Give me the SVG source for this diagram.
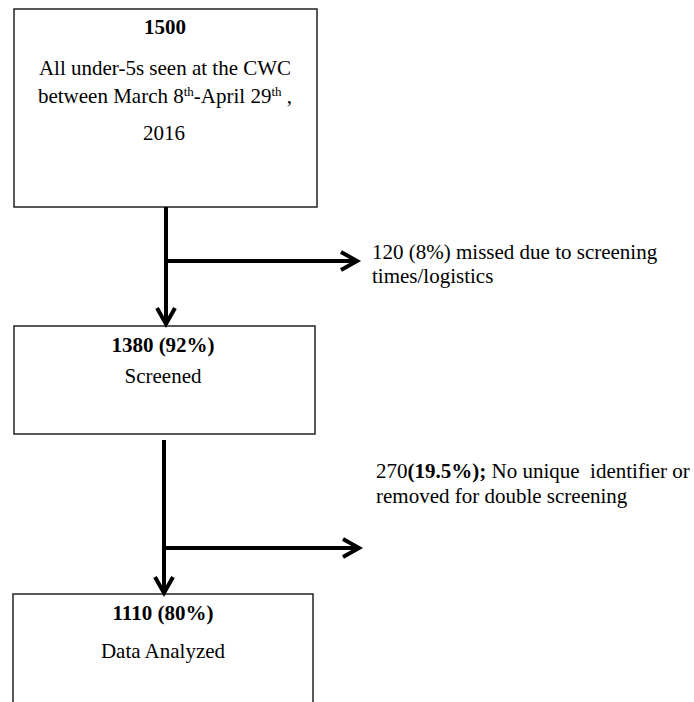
<svg xmlns="http://www.w3.org/2000/svg" width="694" height="702" viewBox="0 0 694 702">
  <style>
    .box { fill: #ffffff; stroke: #222222; stroke-width: 1.5; }
    .t { font-family: "Liberation Serif", "Times New Roman", serif; font-size: 21px; fill: #000000; }
    .c { text-anchor: middle; }
    .b { font-weight: bold; }
    .sup { font-size: 13px; }
    .conn { fill: none; stroke: #000000; stroke-width: 4; }
    .pre { white-space: pre; }
  </style>
  <defs>
    <marker id="chev" markerUnits="userSpaceOnUse" markerWidth="24" markerHeight="24" refX="18" refY="10" orient="auto" overflow="visible">
      <path d="M2,1 L18,10 L2,19" fill="none" stroke="#000000" stroke-width="4" stroke-linejoin="miter"/>
    </marker>
  </defs>
  <rect width="694" height="702" fill="#ffffff"/>

  <g id="node-1500">
    <rect class="box" x="14" y="9" width="303" height="198"/>
    <text class="t b c" x="165" y="34">1500</text>
    <text class="t c" x="165" y="75">All under-5s seen at the CWC</text>
    <text class="t c" x="165" y="103">between March 8<tspan class="sup" baseline-shift="super">th</tspan>-April 29<tspan class="sup" baseline-shift="super">th</tspan> ,</text>
    <text class="t c" x="164" y="140">2016</text>
  </g>

  <g id="node-1380">
    <rect class="box" x="14" y="326" width="301" height="108"/>
    <text class="t b c" x="163" y="352">1380 (92%)</text>
    <text class="t c" x="163" y="383">Screened</text>
  </g>

  <g id="node-1110">
    <rect class="box" x="13" y="594" width="300" height="130"/>
    <text class="t b c" x="163" y="620">1110 (80%)</text>
    <text class="t c" x="163" y="658">Data Analyzed</text>
  </g>

  <g id="exclusion-120">
    <text class="t" x="372" y="259">120 (8%) missed due to screening</text>
    <text class="t" x="372" y="283">times/logistics</text>
  </g>

  <g id="exclusion-270">
    <text class="t pre" x="376" y="478">270<tspan class="b">(19.5%);</tspan> No unique  identifier or</text>
    <text class="t" x="376" y="503">removed for double screening</text>
  </g>

  <g id="connectors">
    <path class="conn" d="M166,207 L166,324" marker-end="url(#chev)"/>
    <path class="conn" d="M166,261 L357,261" marker-end="url(#chev)"/>
    <path class="conn" d="M164,440 L164,593" marker-end="url(#chev)"/>
    <path class="conn" d="M164,548 L359,548" marker-end="url(#chev)"/>
  </g>
</svg>
